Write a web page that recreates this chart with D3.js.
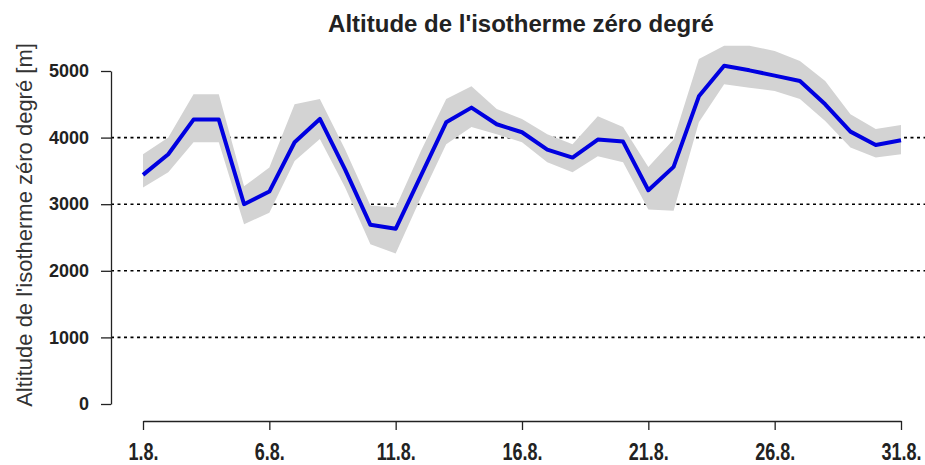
<!DOCTYPE html>
<html>
<head>
<meta charset="utf-8">
<script src="https://cdn.jsdelivr.net/npm/d3@7"></script>
<style>
  body { margin: 0; background: #fff; }
  svg { display: block; font-family: "Liberation Sans", Arial, sans-serif; }
</style>
</head>
<body>
<div id="chart"></div>
<script>
// jours du mois d'août
var days = d3.range(1, 32);
var tickDays = [1, 6, 11, 16, 21, 26, 31];
var yTicks = [0, 1000, 2000, 3000, 4000, 5000];
var gridValues = [1000, 2000, 3000, 4000];

// altitude moyenne de l'isotherme 0°C [m]
var altMean = [3440, 3750, 4270, 4270, 3000, 3190, 3930, 4280, 3520, 2690,
               2630, 3430, 4230, 4450, 4200, 4080, 3820, 3700, 3970, 3940,
               3210, 3560, 4620, 5080, 5010, 4930, 4850, 4500, 4090, 3890, 3960];
// bande d'incertitude
var altUpper = [3750, 4000, 4650, 4650, 3270, 3550, 4500, 4580, 3820, 2980,
                2950, 3800, 4580, 4770, 4430, 4280, 4050, 3900, 4320, 4160,
                3560, 3970, 5180, 5380, 5380, 5300, 5150, 4850, 4350, 4130, 4190];
var altLower = [3250, 3480, 3930, 3930, 2700, 2870, 3650, 3980, 3250, 2400,
                2260, 3100, 3900, 4160, 4050, 3930, 3630, 3480, 3720, 3630,
                2920, 2900, 4230, 4800, 4750, 4700, 4580, 4250, 3850, 3700, 3750];

var width = 925, height = 465;

var svg = d3.select("#chart")
  .append("svg")
    .attr("width", width)
    .attr("height", height);

var x = d3.scaleLinear().domain([1, 31]).range([143, 901]);
var y = d3.scaleLinear().domain([0, 5000]).range([404, 71]);

// lignes pointillées
svg.append("g")
  .selectAll("line")
  .data(gridValues)
  .join("line")
    .attr("x1", 111)
    .attr("x2", width)
    .attr("y1", d => y(d))
    .attr("y2", d => y(d))
    .attr("stroke", "#000")
    .attr("stroke-width", 1.6)
    .attr("stroke-dasharray", "3,3.5");

var data = days.map((d, i) => ({day: d, mean: altMean[i], lo: altLower[i], hi: altUpper[i]}));

// bande grise
var area = d3.area()
  .x(d => x(d.day))
  .y0(d => y(d.lo))
  .y1(d => y(d.hi));

svg.append("path")
  .datum(data)
  .attr("d", area)
  .attr("fill", "#d3d3d3");

// courbe bleue
var line = d3.line()
  .x(d => x(d.day))
  .y(d => y(d.mean));

svg.append("path")
  .datum(data)
  .attr("d", line)
  .attr("fill", "none")
  .attr("stroke", "#0000e0")
  .attr("stroke-width", 4)
  .attr("stroke-linejoin", "round");

// axe vertical
var yAxis = svg.append("g")
  .attr("transform", "translate(111,0)")
  .call(d3.axisLeft(y).tickValues(yTicks).tickSize(10).tickSizeOuter(0).tickPadding(12)
    .tickFormat(d3.format("d")));
yAxis.selectAll("path, line").attr("stroke", "#222").attr("stroke-width", 1.3);
yAxis.selectAll("text")
  .attr("font-size", 18)
  .attr("font-weight", "bold")
  .attr("font-family", "'Liberation Sans', Arial, sans-serif")
  .attr("fill", "#222");

// axe horizontal
var xAxis = svg.append("g")
  .attr("transform", "translate(0,421)")
  .call(d3.axisBottom(x).tickValues(tickDays).tickSize(9).tickSizeOuter(0)
    .tickFormat(d => d + ".8."));
xAxis.selectAll("path, line").attr("stroke", "#222").attr("stroke-width", 1.3);
xAxis.selectAll("text")
  .attr("y", 0)
  .attr("dy", 0)
  .attr("transform", "translate(0,39) scale(0.75,1)")
  .attr("font-size", 24)
  .attr("font-weight", "bold")
  .attr("font-family", "'Liberation Sans', Arial, sans-serif")
  .attr("fill", "#222");

// titre
svg.append("text")
  .attr("x", 521)
  .attr("y", 32)
  .attr("text-anchor", "middle")
  .attr("font-size", 24)
  .attr("font-weight", "bold")
  .attr("fill", "#222")
  .text("Altitude de l'isotherme zéro degré");

// titre de l'axe y
svg.append("text")
  .attr("transform", "translate(32,225) rotate(-90)")
  .attr("text-anchor", "middle")
  .attr("font-size", 22)
  .attr("fill", "#333")
  .text("Altitude de l'isotherme zéro degré [m]");
</script>
</body>
</html>
